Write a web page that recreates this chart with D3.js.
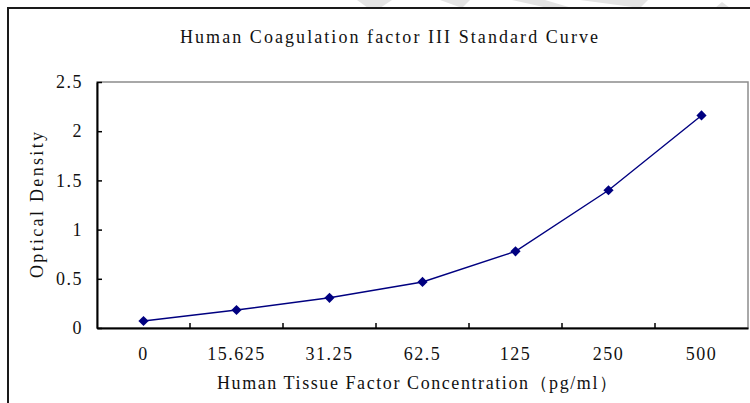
<!DOCTYPE html>
<html>
<head>
<meta charset="utf-8">
<script src="https://cdn.jsdelivr.net/npm/d3@7"></script>
<style>
  body { margin: 0; background: #fff; }
  svg { display: block; }
  svg text { font-family: "Liberation Serif", "Times New Roman", "DejaVu Serif", serif !important; fill: #111; }
  .axis path, .axis line { stroke: #000; }
  .axis text { font-size: 18px; letter-spacing: 1.5px; }
</style>
</head>
<body>
<div id="vis"></div>
<script>
// Standard curve values
let concentrations = ['0', '15.625', '31.25', '62.5', '125', '250', '500'];
let opticalDensity = [0.071, 0.183, 0.307, 0.468, 0.779, 1.40, 2.16];
let yTicks = [0, 0.5, 1, 1.5, 2, 2.5];
let yTickLabels = ['0', '0.5', '1', '1.5', '2', '2.5'];

let data = concentrations.map((c, i) => ({ conc: c, od: opticalDensity[i] }));

// plot box in page pixels
let margin = { left: 97, top: 82, right: 2, bottom: 75 };
let totalW = 750, totalH = 403;
let width = totalW - margin.left - margin.right;
let height = totalH - margin.top - margin.bottom;
let serif = '"Liberation Serif", "Times New Roman", serif';

let svg = d3.select('#vis')
    .append('svg')
    .attr('width', totalW)
    .attr('height', totalH);

// faint watermark bits peeking above the frame
let wm = svg.append('g').attr('fill', '#e4e4e4');
[
    [[357, 0], [392, 0], [380, 8], [368, 8]],
    [[440, 0], [470, 0], [462, 8]],
    [[512, 0], [545, 0], [572, 8], [548, 8]],
    [[580, 0], [648, 0], [640, 8]],
    [[715, 8], [722, 2], [730, 8]]
].forEach(p => wm.append('polygon').attr('points', p.join(' ')));

// outer chart frame (runs off the right and bottom edge)
svg.append('rect')
    .attr('x', 8).attr('y', 8)
    .attr('width', 800).attr('height', 450)
    .attr('fill', '#fff')
    .attr('stroke', '#1a1a1a')
    .attr('stroke-width', 2);

let xScale = d3.scaleBand()
    .domain(concentrations)
    .range([0, width])
    .padding(0);

let yScale = d3.scaleLinear()
    .domain([0, 2.5])
    .range([height, 0]);

let g = svg.append('g')
    .attr('transform', `translate(${margin.left}, ${margin.top})`);

// plot area border: grey top/right
g.append('rect')
    .attr('x', 0).attr('y', 0)
    .attr('width', width).attr('height', height)
    .attr('fill', '#fff')
    .attr('stroke', '#8c8c8c')
    .attr('stroke-width', 1.5);

let xAxis = d3.axisBottom(xScale)
    .tickSizeInner(0)
    .tickSizeOuter(0)
    .tickPadding(19);

let yAxis = d3.axisLeft(yScale)
    .tickValues(yTicks)
    .tickFormat((d, i) => yTickLabels[i])
    .tickSizeInner(-5)
    .tickSizeOuter(0)
    .tickPadding(14);

let xAxisG = g.append('g')
    .attr('class', 'axis')
    .attr('transform', `translate(0, ${height})`)
    .call(xAxis)
    .attr('font-family', serif);
xAxisG.select('.domain').attr('stroke-width', 2);

// category boundary ticks, pointing up into the plot
xAxisG.selectAll('.bound')
    .data(concentrations.slice(1))
    .enter().append('line')
    .attr('class', 'bound')
    .attr('x1', d => xScale(d)).attr('x2', d => xScale(d))
    .attr('y1', 0).attr('y2', -5)
    .attr('stroke', '#000')
    .attr('stroke-width', 1.5);

let yAxisG = g.append('g')
    .attr('class', 'axis')
    .call(yAxis)
    .attr('font-family', serif);
yAxisG.select('.domain').attr('stroke-width', 2);
yAxisG.selectAll('.tick line').attr('stroke-width', 1.5);

// line + diamond markers
let cx = d => xScale(d.conc) + xScale.bandwidth() / 2;

g.append('path')
    .datum(data)
    .attr('fill', 'none')
    .attr('stroke', '#000080')
    .attr('stroke-width', 1.4)
    .attr('d', d3.line().x(cx).y(d => yScale(d.od)));

g.selectAll('.pt')
    .data(data)
    .enter().append('path')
    .attr('class', 'pt')
    .attr('d', d3.symbol().type(d3.symbolSquare).size(52))
    .attr('transform', d => `translate(${cx(d)}, ${yScale(d.od)}) rotate(45)`)
    .attr('fill', '#000080');

// titles
svg.append('text')
    .attr('x', 389).attr('y', 43)
    .attr('text-anchor', 'middle')
    .attr('font-family', serif)
    .attr('font-size', 18)
    .attr('textLength', 418)
    .attr('lengthAdjust', 'spacing')
    .text('Human Coagulation factor III Standard Curve');

svg.append('text')
    .attr('x', 417).attr('y', 389)
    .attr('text-anchor', 'middle')
    .attr('font-family', serif)
    .attr('font-size', 18)
    .attr('textLength', 400)
    .attr('lengthAdjust', 'spacing')
    .text('Human Tissue Factor Concentration（pg/ml）');

svg.append('text')
    .attr('transform', 'translate(43, 205) rotate(-90)')
    .attr('text-anchor', 'middle')
    .attr('font-family', serif)
    .attr('font-size', 18)
    .attr('textLength', 146)
    .attr('lengthAdjust', 'spacing')
    .text('Optical Density');
</script>
</body>
</html>
